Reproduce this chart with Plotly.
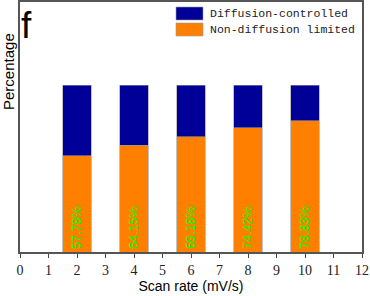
import plotly.graph_objects as go

scan_rates = [2, 4, 6, 8, 10]
non_diffusion = [57.78, 64.15, 69.18, 74.42, 78.83]
diffusion = [100 - v for v in non_diffusion]
labels = [f"{v:.2f}%" for v in non_diffusion]
x_ticks = list(range(0, 13))

blue = "#000099"
orange = "#FF8000"

fig = go.Figure()
fig.add_trace(go.Bar(
    x=scan_rates, y=non_diffusion, name="Non-diffusion limited",
    marker=dict(color=orange, line=dict(color="#9a9a9a", width=0.6)),
    width=1.0, text=labels, textposition="inside", insidetextanchor="start",
    textangle=-90, textfont=dict(family="Liberation Sans", size=12.5, color="#00FF00"),
    showlegend=False,
))
fig.add_trace(go.Bar(
    x=scan_rates, y=diffusion, name="Diffusion-controlled",
    marker=dict(color=blue, line=dict(color="#9a9a9a", width=0.6)),
    width=1.0, showlegend=False,
))

# legend drawn manually (pixel positions converted to paper coords of the plot area)
PL, PT, PW, PH = 20, 2, 342, 250
def px_x(px):
    return (px - PL) / PW
def px_y(py):
    return 1 - (py - PT) / PH

legend_items = [("Diffusion-controlled", blue), ("Non-diffusion limited", orange)]
for i, (name, col) in enumerate(legend_items):
    top = 7 + i * 16
    fig.add_shape(type="rect", xref="paper", yref="paper",
                  x0=px_x(176), x1=px_x(203), y0=px_y(top + 13), y1=px_y(top),
                  fillcolor=col, line=dict(color="#9a9a9a", width=0.6))
    fig.add_annotation(x=px_x(208), y=px_y(top + 6.5), xref="paper", yref="paper",
                       text=name, showarrow=False, xanchor="left", yanchor="middle",
                       font=dict(family="Liberation Mono", size=11.5, color="#222"))

fig.add_annotation(x=px_x(19), y=px_y(3), xref="paper", yref="paper", text="f",
                   showarrow=False, xanchor="left", yanchor="top",
                   font=dict(family="Liberation Sans", size=37, color="black"))
fig.add_annotation(x=px_x(8), y=px_y(72), xref="paper", yref="paper", text="Percentage",
                   showarrow=False, textangle=-90, xanchor="center", yanchor="middle",
                   font=dict(family="Liberation Sans", size=15, color="black"))

fig.update_layout(
    template="none",
    barmode="stack",
    width=370, height=296,
    margin=dict(l=PL, r=370 - PL - PW, t=PT, b=296 - PT - PH, autoexpand=False),
    paper_bgcolor="white", plot_bgcolor="white",
    xaxis=dict(range=[0, 12], tickvals=x_ticks, ticktext=[str(t) for t in x_ticks],
               ticks="outside", ticklen=4, tickcolor="#444", showgrid=False, zeroline=False,
               showline=True, linecolor="#555", linewidth=1.5, mirror=True, automargin=False,
               tickfont=dict(family="Liberation Serif", size=14, color="#222"),
               title=dict(text="Scan rate (mV/s)", standoff=2,
                          font=dict(family="Liberation Sans", size=14, color="black"))),
    yaxis=dict(range=[0, 150], showticklabels=False, ticks="", showgrid=False, zeroline=False,
               showline=True, linecolor="#555", linewidth=1.5, mirror=True, automargin=False),
)

fig.write_html("out.html", config={"displayModeBar": False},
               post_script="document.body.style.margin='0';document.body.style.padding='0';")
